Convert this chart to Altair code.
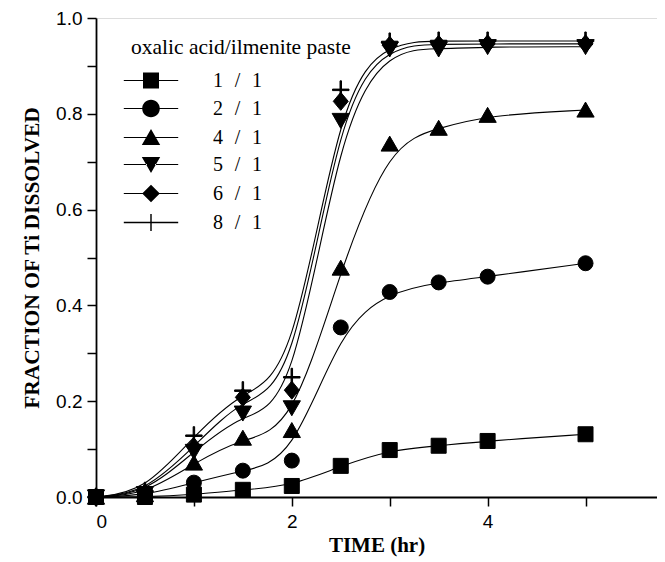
import altair as alt
import pandas as pd

# ---- data ----
time_hr = [0, 0.5, 1, 1.5, 2, 2.5, 3, 3.5, 4, 5]
sp = "\u00a0\u00a0\u200a"
ratio_labels = [f"1{sp}/{sp}1", f"2{sp}/{sp}1", f"4{sp}/{sp}1",
                f"5{sp}/{sp}1", f"6{sp}/{sp}1", f"8{sp}/{sp}1"]
r1_1 = [0, 0.0, 0.005, 0.015, 0.023, 0.065, 0.098, 0.107, 0.117, 0.131]
r2_1 = [0, 0.003, 0.030, 0.055, 0.076, 0.354, 0.428, 0.448, 0.460, 0.488]
r4_1 = [0, 0.005, 0.071, 0.123, 0.139, 0.478, 0.737, 0.770, 0.797, 0.808]
r5_1 = [0, 0.007, 0.095, 0.175, 0.186, 0.786, 0.935, 0.935, 0.940, 0.940]
r6_1 = [0, 0.009, 0.105, 0.208, 0.223, 0.826, 0.943, 0.945, 0.946, 0.946]
r8_1 = [0, 0.012, 0.128, 0.222, 0.250, 0.850, 0.950, 0.952, 0.952, 0.952]
x_ticks = [0, 1, 2, 3, 4, 5]
y_ticks = [0, 0.1, 0.2, 0.3, 0.4, 0.5, 0.6, 0.7, 0.8, 0.9, 1.0]

series_values = [r1_1, r2_1, r4_1, r5_1, r6_1, r8_1]
rows = []
for lab, vals in zip(ratio_labels, series_values):
    for t, v in zip(time_hr, vals):
        rows.append({"t": t, "f": v, "ratio": lab})
df = pd.DataFrame(rows)

# marker shapes (plot) and legend shapes (line-symbol-line), all filled outlines
plus = "M-1.1,-0.1H1.1V0.1H-1.1ZM-0.1,-1.2H0.1V1.2H-0.1Z"
plot_shapes = [
    "M-1,-1H1V1H-1Z",
    "circle",
    "M0,-1.05L1.15,0.95L-1.15,0.95Z",
    "M0,1.05L1.15,-0.95L-1.15,-0.95Z",
    "M0,-1.2L1,0L0,1.2L-1,0Z",
    plus,
]
seg = "M-3.4,-0.07H-0.5V0.07H-3.4ZM0.5,-0.07H3.4V0.07H0.5Z"
legend_shapes = [
    seg + "M-1,-1H1V1H-1Z",
    seg + "M-1.1,0A1.1,1.1 0 1,1 1.1,0A1.1,1.1 0 1,1 -1.1,0Z",
    seg + "M0,-1.05L1.15,0.95L-1.15,0.95Z",
    seg + "M0,1.05L1.15,-0.95L-1.15,-0.95Z",
    seg + "M0,-1.1L1.1,0L0,1.1L-1.1,0Z",
    "M-3.4,-0.08H3.4V0.08H-3.4ZM-0.09,-1.05H0.09V1.05H-0.09Z",
]

serif = "Liberation Serif"
sans = "Liberation Sans"

x_enc = alt.X(
    "t:Q",
    scale=alt.Scale(domain=[0, 5.73], nice=False, zero=False),
    axis=alt.Axis(
        title="TIME (hr)", values=x_ticks, grid=False,
        labelExpr="datum.value % 2 == 0 ? datum.label : ''",
        tickSize=9, tickWidth=1.5, domainWidth=1.8, domainColor="black", tickColor="black",
        labelFont=sans, labelFontSize=19, labelColor="black", labelPadding=6,
        titleFont=serif, titleFontSize=21, titleFontWeight="bold", titleColor="black", titlePadding=3,
    ),
)
y_enc = alt.Y(
    "f:Q",
    scale=alt.Scale(domain=[0, 1.0], nice=False),
    axis=alt.Axis(
        title="FRACTION OF Ti DISSOLVED", values=y_ticks, grid=False, format=".1f",
        labelExpr="round(datum.value * 10) % 2 == 0 ? datum.label : ''",
        tickSize=9, tickWidth=1.5, domainWidth=1.8, domainColor="black", tickColor="black",
        labelFont=sans, labelFontSize=19, labelColor="black", labelPadding=5,
        titleFont=serif, titleFontSize=21.5, titleFontWeight="bold", titleColor="black", titlePadding=12,
    ),
)

base = alt.Chart(df)

lines = base.mark_line(interpolate="basis", color="black", strokeWidth=1.1).encode(
    x=x_enc, y=y_enc, detail="ratio:N"
)

points = base.mark_point(filled=True, color="black", fill="black", stroke="black",
                         strokeWidth=1.0, opacity=1, size=225).encode(
    x=x_enc, y=y_enc,
    shape=alt.Shape("ratio:N", scale=alt.Scale(domain=ratio_labels, range=plot_shapes), legend=None),
)

legend_layer = base.transform_filter("datum.t < 0").mark_point(
    filled=True, color="black", fill="black", opacity=1
).encode(
    x=x_enc, y=y_enc,
    shape=alt.Shape(
        "ratio:N",
        scale=alt.Scale(domain=ratio_labels, range=legend_shapes),
        legend=alt.Legend(
            title="oxalic acid/ilmenite paste", orient="none", legendX=35, legendY=19,
            padding=0, titleFont=serif, titleFontSize=21.5, titleFontWeight="normal",
            titleColor="black", titlePadding=12, titleLimit=500, labelFont=serif, labelFontSize=20,
            labelColor="black", symbolSize=256, symbolOffset=10, labelOffset=52,
            rowPadding=5, symbolFillColor="black", symbolOpacity=1,
        ),
    ),
)

chart = alt.layer(lines, points, legend_layer).resolve_scale(shape="independent").properties(
    width=561, height=479,
    autosize=alt.AutoSizeParams(type="none"),
    padding={"left": 88, "top": 10, "right": 0, "bottom": 60},
).configure_view(stroke="black", strokeWidth=1.8).configure(background="white")

chart.save("out.html", embed_options={"renderer": "svg", "actions": False})
